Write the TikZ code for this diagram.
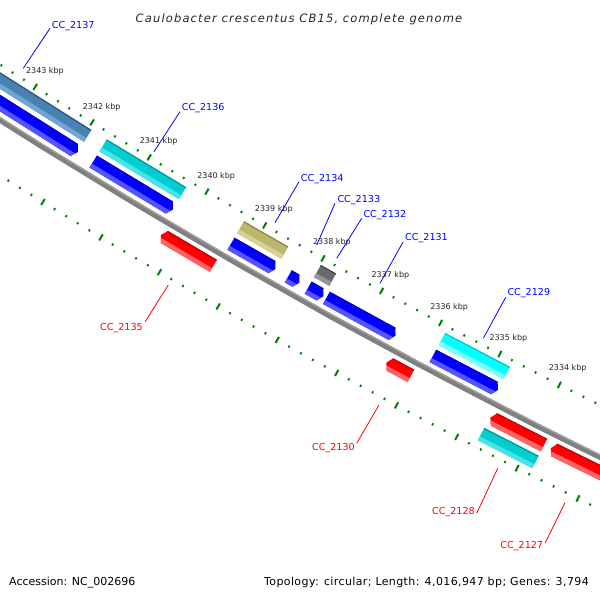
\documentclass[tikz,border=0pt]{standalone}
\usepackage{fontspec}
\setmainfont{DejaVu Sans}
\definecolor{cBlue}{RGB}{0,0,255}
\definecolor{cBlueL}{RGB}{85,85,255}
\definecolor{cBlueD}{RGB}{0,0,205}
\definecolor{cSteel}{RGB}{70,130,180}
\definecolor{cSteelL}{RGB}{115,165,210}
\definecolor{cSteelD}{RGB}{45,85,125}
\definecolor{cTurq}{RGB}{0,206,209}
\definecolor{cTurqL}{RGB}{75,228,230}
\definecolor{cTurqD}{RGB}{0,150,150}
\definecolor{cKhaki}{RGB}{189,183,107}
\definecolor{cKhakiL}{RGB}{214,209,150}
\definecolor{cKhakiD}{RGB}{140,134,70}
\definecolor{cDim}{RGB}{105,105,105}
\definecolor{cDimL}{RGB}{150,150,150}
\definecolor{cDimD}{RGB}{70,70,70}
\definecolor{cCyan}{RGB}{0,255,255}
\definecolor{cCyanL}{RGB}{120,255,255}
\definecolor{cCyanD}{RGB}{0,200,200}
\definecolor{cRed}{RGB}{255,0,0}
\definecolor{cRedL}{RGB}{255,100,100}
\definecolor{cRedD}{RGB}{200,0,0}
\definecolor{cTick}{RGB}{0,128,0}
\definecolor{cBack}{RGB}{128,128,128}
\definecolor{cBackL}{RGB}{160,160,160}
\tikzset{cs/kb/.initial=2338, cs/off/.initial=0}
\makeatletter
\tikzdeclarecoordinatesystem{g}{%
  \tikzset{cs/.cd,#1}%
  \pgfmathsetmacro\g@a{119.3+((\pgfkeysvalueof{/tikz/cs/kb})-2338)*0.595}%
  \pgfmathsetmacro\g@r{6500+(\pgfkeysvalueof{/tikz/cs/off})}%
  \pgfpointadd{\pgfpointxy{3481}{-5369}}{\pgfpointpolarxy{\g@a}{\g@r}}%
}
\makeatother
% bands: #1 p1 (larger), #2 p2, #3 top offset, #4 bottom offset, #5 colour
\newcommand\FBands[5]{%
  \fill[#5] (g cs:kb={#1+0.05},off={#3-2}) -- (g cs:kb={#2-0.05},off={#3-2}) -- (g cs:kb={#2-0.05},off={#4+2}) -- (g cs:kb={#1+0.05},off={#4+2}) -- cycle;
  \fill[#5L] (g cs:kb={#1+0.05},off={#4-4.5}) -- (g cs:kb={#2-0.05},off={#4-4.5}) -- (g cs:kb={#2-0.05},off={#4+2}) -- (g cs:kb={#1+0.05},off={#4+2}) -- cycle;
  \fill[#5D] (g cs:kb={#1+0.05},off={#3-2}) -- (g cs:kb={#2-0.05},off={#3-2}) -- (g cs:kb={#2-0.05},off={#3+1.2}) -- (g cs:kb={#1+0.05},off={#3+1.2}) -- cycle;}
\newcommand\FeatBox[5]{\begin{scope}
  \clip (g cs:kb=#1,off=#3) -- (g cs:kb=#2,off=#3) -- (g cs:kb=#2,off=#4) -- (g cs:kb=#1,off=#4) -- cycle;
  \FBands{#1}{#2}{#3}{#4}{#5}\end{scope}}
\newcommand\FeatFwd[5]{\begin{scope}
  \clip (g cs:kb=#1,off=#3) -- (g cs:kb={#2+0.06},off=#3) -- (g cs:kb=#2,off={((#3)+(#4))/2}) -- (g cs:kb={#2+0.06},off=#4) -- (g cs:kb=#1,off=#4) -- cycle;
  \FBands{#1}{#2}{#3}{#4}{#5}\end{scope}}
\newcommand\FeatRev[5]{\begin{scope}
  \clip (g cs:kb=#1,off={((#3)+(#4))/2}) -- (g cs:kb={#1-0.06},off=#3) -- (g cs:kb=#2,off=#3) -- (g cs:kb=#2,off=#4) -- (g cs:kb={#1-0.06},off=#4) -- cycle;
  \FBands{#1}{#2}{#3}{#4}{#5}\end{scope}}
\begin{document}
\begin{tikzpicture}[x=1pt,y=-1pt,
  bigtick/.style={cTick,line width=2pt},
  smalltick/.style={cTick,line width=1.8pt},
  kbp/.style={font=\fontsize{8}{9}\selectfont,text=black!85,inner sep=0pt},
  glab/.style={font=\fontsize{9.6}{11}\selectfont,inner sep=0pt},
  bl/.style={glab,text=cBlue,anchor=base west},
  rl/.style={glab,text=cRed,anchor=base east},
  bline/.style={cBlue,line width=0.8pt},
  rline/.style={cRed,line width=0.8pt}]
\useasboundingbox (0,0) rectangle (600,600);
\fill[white] (0,0) rectangle (600,600);
\clip (0,0) rectangle (600,600);
% backbone
\draw[cBack,line width=5.5pt] (g cs:kb=2331,off=0) \foreach \t in {2331.5,2332,...,2345.5}{ -- (g cs:kb=\t,off=0)};
\draw[cBackL,line width=1.2pt] (g cs:kb=2331,off=-2) \foreach \t in {2331.5,2332,...,2345.5}{ -- (g cs:kb=\t,off=-2)};
% ticks
\foreach \i in {2332,...,2344}{
  \draw[bigtick] (g cs:kb=\i,off=-50.25) -- (g cs:kb=\i,off=-43.25);
  \draw[bigtick] (g cs:kb=\i,off=43.25) -- (g cs:kb=\i,off=50.25);
  \foreach \j in {1,2,3,4}{
    \draw[smalltick] (g cs:kb={\i+0.2*\j},off=-47.9) -- (g cs:kb={\i+0.2*\j},off=-45.6);
    \draw[smalltick] (g cs:kb={\i+0.2*\j},off=45.6) -- (g cs:kb={\i+0.2*\j},off=47.9);
  }
}
\foreach \i in {2334,...,2343}{
  \node[kbp] (k\i) at (g cs:kb=\i,off=-65) {\i\ kbp};
}
% forward strand
\FeatFwd{2344.2}{2341.95}{-21}{-7}{cBlue}
\FeatBox{2344.2}{2341.95}{-40}{-26}{cSteel}
\FeatFwd{2341.68}{2340.30}{-21}{-7}{cBlue}
\FeatBox{2341.68}{2340.30}{-40}{-26}{cTurq}
\FeatFwd{2339.30}{2338.54}{-21}{-7}{cBlue}
\FeatBox{2339.30}{2338.54}{-40}{-26}{cKhaki}
\FeatFwd{2338.32}{2338.13}{-21}{-7}{cBlue}
\FeatFwd{2337.98}{2337.72}{-21}{-7}{cBlue}
\FeatBox{2337.98}{2337.72}{-40}{-26}{cDim}
\FeatFwd{2337.67}{2336.50}{-21}{-7}{cBlue}
\FeatFwd{2335.87}{2334.78}{-21}{-7}{cBlue}
\FeatBox{2335.87}{2334.78}{-40}{-26}{cCyan}
% reverse strand
\FeatRev{2340.26}{2339.36}{7}{21}{cRed}
\FeatRev{2336.43}{2336.02}{7}{21}{cRed}
\FeatRev{2334.69}{2333.80}{7}{21}{cRed}
\FeatBox{2334.70}{2333.80}{26}{40}{cTurq}
\FeatRev{2333.69}{2331.9}{7}{21}{cRed}
% gene labels
\node[bl] (l2137) at (51.7,28.6) {CC\_2137};
\node[bl] (l2136) at (181.7,110.3) {CC\_2136};
\node[bl] (l2134) at (300.7,181.9) {CC\_2134};
\node[bl] (l2133) at (337.3,202.9) {CC\_2133};
\node[bl] (l2132) at (363.3,217.6) {CC\_2132};
\node[bl] (l2131) at (405,240.6) {CC\_2131};
\node[bl] (l2129) at (507.3,295.9) {CC\_2129};
\node[rl] (l2135) at (143,330.6) {CC\_2135};
\node[rl] (l2130) at (355,450.3) {CC\_2130};
\node[rl] (l2128) at (475,514.6) {CC\_2128};
\node[rl] (l2127) at (543.3,548.6) {CC\_2127};
\coordinate (a2137) at (50,28.3);   \coordinate (b2137) at (23.3,68.3);
\coordinate (a2136) at (180,111.7); \coordinate (b2136) at (154,151.7);
\coordinate (a2134) at (299,181.7); \coordinate (b2134) at (275,222.7);
\coordinate (a2133) at (335,203.3); \coordinate (b2133) at (316.7,245);
\coordinate (a2132) at (361.7,218.3); \coordinate (b2132) at (336.7,258.3);
\coordinate (a2131) at (403,242);   \coordinate (b2131) at (380,283.3);
\coordinate (a2129) at (505.7,297.3); \coordinate (b2129) at (483.3,338.3);
\coordinate (a2135) at (145,322);   \coordinate (b2135) at (168.3,285);
\coordinate (a2130) at (356.7,443.3); \coordinate (b2130) at (379,405);
\coordinate (a2128) at (476.7,513.3); \coordinate (b2128) at (497.7,468.3);
\coordinate (a2127) at (545,543.3); \coordinate (b2127) at (565,502.7);
\foreach \g in {2137,2136,2134,2133,2132,2131,2129}{\draw[bline] (a\g) -- (b\g);}
\foreach \g in {2135,2130,2128,2127}{\draw[rline] (a\g) -- (b\g);}
% title and footer
\node[font=\fontsize{11.5}{14}\selectfont\itshape\addfontfeatures{LetterSpace=10},text=black!85,anchor=base,inner sep=0pt] (title) at (299,22.5) {Caulobacter crescentus CB15, complete genome};
\node[font=\fontsize{11}{13}\selectfont,anchor=base west,inner sep=0pt] (acc) at (9,585) {Accession: NC\_002696};
\node[font=\fontsize{11}{13}\selectfont\addfontfeatures{LetterSpace=3.6},anchor=base east,inner sep=0pt] (topo) at (589,585) {Topology: circular; Length: 4,016,947 bp; Genes: 3,794};
\end{tikzpicture}
\end{document}
